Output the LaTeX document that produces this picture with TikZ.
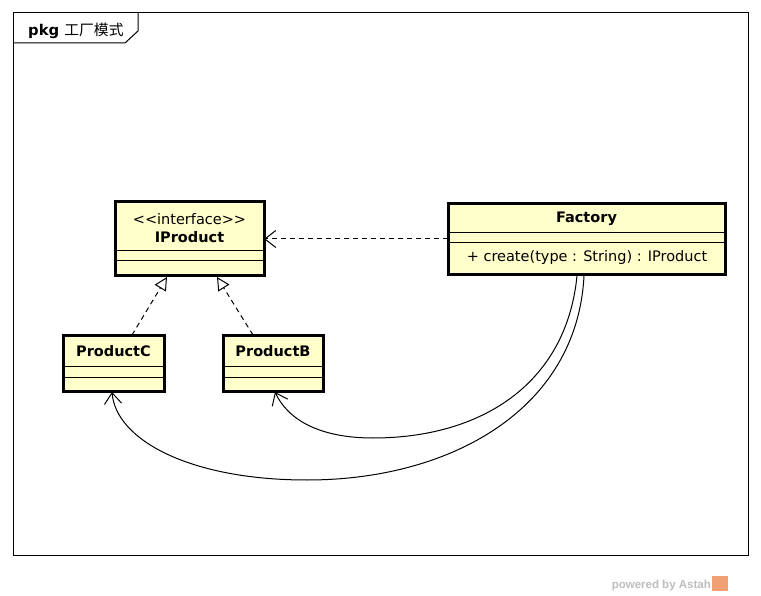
\documentclass[tikz,border=0pt]{standalone}
\usepackage{fontspec}
\setmainfont{DejaVu Sans}
\newfontfamily\cjkfont{Noto Sans CJK SC}
\newfontfamily\astahfont{Liberation Sans}
\usetikzlibrary{arrows.meta}
\definecolor{umlfill}{RGB}{255,255,204}
\definecolor{astahgray}{RGB}{190,190,190}
\definecolor{astahorange}{RGB}{240,160,115}
\tikzset{
  classbox/.style={draw=black, line width=3pt, fill=umlfill},
  sepline/.style={draw=black, line width=1pt},
  txt/.style={font=\fontsize{14.5}{16}\selectfont, inner sep=0pt},
  btxt/.style={font=\fontsize{14.5}{16}\selectfont\bfseries, inner sep=0pt},
  dep/.style={draw=black, line width=1pt, dash pattern=on 5pt off 4pt, -{Straight Barb[length=11pt,width=17pt]}},
  real/.style={draw=black, line width=1pt, dash pattern=on 5pt off 4pt, -{Triangle[open,fill=white,length=13pt,width=13pt]}},
  assoc/.style={draw=black, line width=1pt, -{Straight Barb[length=11pt,width=17pt]}},
}
\begin{document}
\begin{tikzpicture}[x=1pt,y=-1pt]
\useasboundingbox (0,0) rectangle (761,596);
\fill[white] (0,0) rectangle (761,596);
% frame
\draw[line width=1pt] (13,13) rectangle (748,555);
\draw[line width=1pt] (13,43) -- (125,43) -- (138,31) -- (138,13);
\node[anchor=base west, inner sep=0pt] (tabtitle) at (28,36) {\fontsize{14.8}{16}\selectfont\bfseries pkg \mdseries\cjkfont 工厂模式};
% IProduct
\path[classbox] (115,202) rectangle (264,276);
\draw[sepline] (115,251) -- (264,251);
\draw[sepline] (115,261) -- (264,261);
\node[txt] (ster) at (189.5,219) {{<}{<}interface{>}{>}};
\node[btxt] (iprodname) at (189.5,237) {IProduct};
\coordinate (iprodR) at (264,239);
\coordinate (iprodB1) at (167,277);
\coordinate (iprodB2) at (217,277);
% Factory
\path[classbox] (448,204) rectangle (725,275);
\draw[sepline] (448,233) -- (725,233);
\draw[sepline] (448,243) -- (725,243);
\node[btxt] (facname) at (586.5,219) {Factory};
\node[txt] (facop) at (587,258) {+ create(type : String) : IProduct};
\coordinate (facL) at (448,239);
\coordinate (facB1) at (577,276);
\coordinate (facB2) at (584,276);
% ProductC
\path[classbox] (63,336) rectangle (164,391);
\draw[sepline] (63,366) -- (164,366);
\draw[sepline] (63,377) -- (164,377);
\node[btxt] (pcname) at (113.5,351) {ProductC};
\coordinate (pcT) at (132,335);
\coordinate (pcB) at (112,392);
% ProductB
\path[classbox] (223,336) rectangle (323,391);
\draw[sepline] (223,366) -- (323,366);
\draw[sepline] (223,377) -- (323,377);
\node[btxt] (pbname) at (273,351) {ProductB};
\coordinate (pbT) at (253,335);
\coordinate (pbB) at (275,392);
% connectors
\draw[dep] (facL) -- (iprodR);
\draw[real] (pcT) -- (iprodB1);
\draw[real] (pbT) -- (iprodB2);
\draw[assoc] (facB1) .. controls (566,385) and (480,438) .. (373,438) .. controls (320,438) and (288,420) .. (pbB);
\draw[assoc] (facB2) .. controls (577,410) and (450,480) .. (307,480) .. controls (190,480) and (116,440) .. (pcB);
% powered by
\node[anchor=base east, inner sep=0pt, text=astahgray] (powered) at (711,588) {\astahfont\fontsize{11.5}{13}\selectfont\bfseries powered by Astah};
\fill[astahorange] (712,576) rectangle (728,591);
\end{tikzpicture}
\end{document}
